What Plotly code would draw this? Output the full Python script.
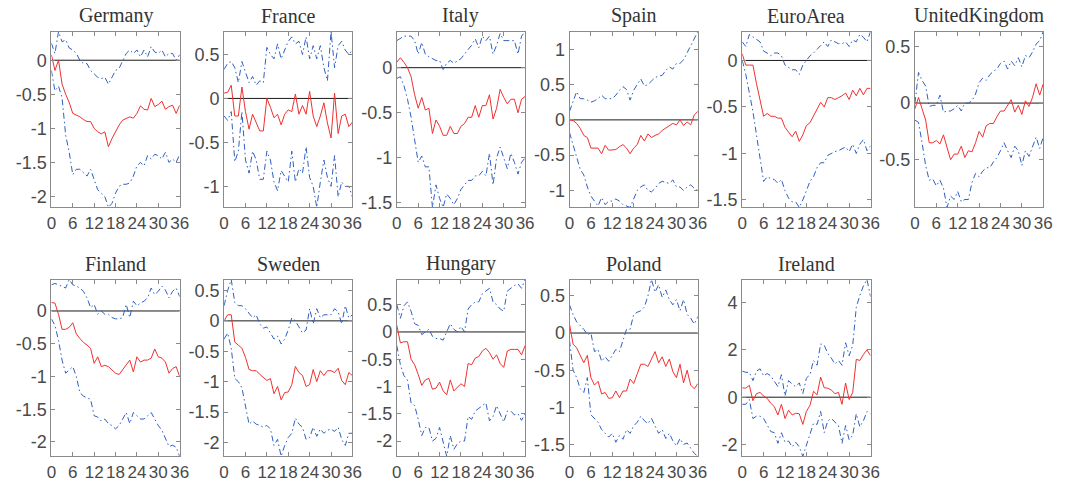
import plotly.graph_objects as go

horizon = list(range(37))
xticks = [0, 6, 12, 18, 24, 30, 36]

countries = ["Germany", "France", "Italy", "Spain", "EuroArea", "UnitedKingdom",
             "Finland", "Sweden", "Hungary", "Poland", "Ireland"]

germany_irf = [0.08, -0.15, 0.0, -0.35, -0.5, -0.62, -0.78, -0.8, -0.83, -0.87, -0.9, -0.9, -1.0, -1.05, -1.08, -1.05, -1.27, -1.15, -1.05, -0.95, -0.88, -0.85, -0.83, -0.85, -0.78, -0.67, -0.72, -0.73, -0.56, -0.68, -0.65, -0.6, -0.72, -0.68, -0.66, -0.78, -0.66]
germany_up = [0.25, 0.1, 0.42, 0.27, 0.3, 0.18, 0.15, 0.1, 0.0, -0.05, -0.05, -0.15, -0.2, -0.25, -0.27, -0.25, -0.35, -0.25, -0.15, -0.12, 0.0, 0.1, 0.15, 0.1, 0.15, 0.05, 0.15, 0.05, 0.2, 0.12, 0.1, 0.15, 0.05, 0.1, 0.1, 0.0, 0.08]
germany_lo = [-0.15, -0.45, -0.38, -0.55, -1.1, -1.35, -1.68, -1.6, -1.6, -1.65, -1.7, -1.6, -1.75, -1.9, -1.95, -2.0, -2.16, -2.1, -1.95, -1.85, -1.82, -1.82, -1.8, -1.7, -1.55, -1.5, -1.55, -1.4, -1.45, -1.38, -1.4, -1.45, -1.35, -1.5, -1.45, -1.5, -1.38]

france_irf = [0.06, 0.07, 0.15, -0.2, -0.2, 0.13, -0.15, -0.35, -0.18, -0.28, -0.37, -0.37, 0.0, -0.1, -0.22, -0.18, -0.3, -0.18, -0.13, -0.15, 0.05, -0.18, -0.08, -0.18, 0.08, -0.2, -0.32, -0.2, -0.05, -0.28, -0.45, 0.06, -0.4, -0.2, -0.18, -0.32, -0.27]
france_up = [0.33, 0.4, 0.42, 0.35, 0.18, 0.42, 0.3, 0.18, 0.25, 0.15, 0.2, 0.18, 0.58, 0.5, 0.45, 0.62, 0.45, 0.55, 0.65, 0.7, 0.62, 0.65, 0.5, 0.7, 0.45, 0.6, 0.45, 0.6, 0.35, 0.2, 0.76, 0.35, 0.6, 0.65, 0.55, 0.5, 0.55]
france_lo = [-0.2, -0.25, -0.15, -0.72, -0.6, -0.15, -0.7, -0.85, -0.6, -0.7, -0.92, -0.92, -0.6, -0.7, -0.95, -1.05, -0.82, -0.88, -0.95, -0.6, -0.95, -0.8, -0.85, -0.55, -0.9, -1.0, -1.24, -0.95, -0.7, -0.9, -1.0, -0.65, -1.12, -0.95, -1.0, -1.0, -1.12]

italy_irf = [0.06, 0.11, 0.06, 0.0, -0.1, -0.3, -0.45, -0.33, -0.47, -0.45, -0.73, -0.58, -0.65, -0.75, -0.75, -0.65, -0.73, -0.73, -0.65, -0.62, -0.55, -0.55, -0.42, -0.55, -0.42, -0.42, -0.3, -0.57, -0.45, -0.24, -0.33, -0.4, -0.35, -0.35, -0.5, -0.35, -0.32]
italy_up = [0.3, 0.33, 0.35, 0.35, 0.35, 0.3, 0.15, 0.28, 0.15, 0.12, 0.1, 0.08, 0.08, -0.02, 0.05, 0.08, 0.05, 0.08, 0.1, 0.15, 0.2, 0.25, 0.32, 0.22, 0.35, 0.3, 0.35, 0.15, 0.25, 0.38, 0.3, 0.3, 0.3, 0.3, 0.15, 0.35, 0.4]
italy_lo = [-0.12, -0.1, -0.2, -0.35, -0.55, -0.8, -1.05, -0.98, -1.1, -1.1, -1.55, -1.3, -1.45, -1.55, -1.4, -1.45, -1.52, -1.45, -1.35, -1.3, -1.25, -1.25, -1.2, -1.2, -1.15, -1.2, -0.95, -1.3, -1.0, -0.88, -1.0, -1.12, -0.95, -1.05, -1.18, -1.05, -1.0]

spain_irf = [0.0, -0.01, -0.05, -0.12, -0.22, -0.25, -0.4, -0.4, -0.4, -0.48, -0.36, -0.43, -0.43, -0.42, -0.38, -0.35, -0.4, -0.48, -0.4, -0.35, -0.22, -0.3, -0.2, -0.25, -0.22, -0.2, -0.15, -0.12, -0.08, -0.05, -0.07, 0.0, -0.08, -0.03, -0.07, 0.07, 0.12]
spain_up = [0.12, 0.25, 0.4, 0.3, 0.3, 0.28, 0.25, 0.27, 0.3, 0.35, 0.3, 0.3, 0.3, 0.35, 0.42, 0.47, 0.43, 0.28, 0.42, 0.5, 0.58, 0.48, 0.5, 0.55, 0.6, 0.62, 0.63, 0.7, 0.75, 0.72, 0.8, 0.8, 0.85, 0.95, 1.05, 1.15, 1.25]
spain_lo = [-0.18, -0.35, -0.55, -0.7, -0.78, -0.95, -1.08, -1.15, -1.22, -1.1, -1.2, -1.15, -1.15, -1.12, -1.15, -1.2, -1.22, -1.24, -1.12, -1.0, -0.95, -0.92, -1.0, -1.02, -0.97, -0.9, -0.87, -0.88, -0.9, -0.85, -0.95, -0.95, -1.0, -0.95, -0.92, -0.97, -1.0]

euro_irf = [0.07, -0.05, -0.05, -0.05, -0.25, -0.42, -0.6, -0.57, -0.6, -0.6, -0.62, -0.62, -0.72, -0.77, -0.82, -0.76, -0.87, -0.8, -0.7, -0.67, -0.6, -0.52, -0.45, -0.5, -0.4, -0.4, -0.42, -0.4, -0.38, -0.35, -0.42, -0.32, -0.38, -0.3, -0.37, -0.3, -0.3]
euro_up = [0.2, 0.15, 0.28, 0.25, 0.22, 0.2, 0.1, 0.08, 0.05, 0.08, 0.08, 0.05, -0.05, -0.08, -0.1, -0.1, -0.15, -0.05, 0.0, 0.05, 0.08, 0.12, 0.15, 0.2, 0.15, 0.22, 0.2, 0.18, 0.18, 0.2, 0.15, 0.22, 0.2, 0.28, 0.25, 0.2, 0.31]
euro_lo = [0.0, -0.15, -0.35, -0.55, -0.8, -1.05, -1.3, -1.25, -1.27, -1.28, -1.32, -1.28, -1.4, -1.48, -1.52, -1.52, -1.58, -1.5, -1.4, -1.3, -1.25, -1.15, -1.1, -1.1, -1.02, -1.0, -0.98, -0.97, -0.95, -0.93, -0.98, -0.9, -1.0, -0.9, -0.85, -0.97, -0.92]

uk_irf = [-0.05, 0.05, -0.05, -0.15, -0.35, -0.35, -0.33, -0.36, -0.28, -0.4, -0.5, -0.45, -0.45, -0.38, -0.48, -0.42, -0.43, -0.35, -0.25, -0.3, -0.2, -0.18, -0.18, -0.12, -0.07, -0.07, -0.02, 0.03, -0.08, -0.02, -0.1, 0.02, -0.03, 0.05, 0.17, 0.07, 0.17]
uk_up = [0.0, 0.27, 0.2, 0.15, -0.03, -0.02, -0.02, 0.07, -0.08, -0.07, -0.07, -0.05, -0.02, -0.07, 0.0, 0.0, 0.02, 0.08, 0.18, 0.22, 0.2, 0.25, 0.28, 0.3, 0.35, 0.37, 0.3, 0.37, 0.33, 0.4, 0.32, 0.42, 0.4, 0.45, 0.52, 0.55, 0.63]
uk_lo = [-0.15, -0.17, -0.35, -0.55, -0.68, -0.67, -0.73, -0.68, -0.75, -0.92, -0.82, -0.85, -0.78, -0.87, -0.85, -0.85, -0.7, -0.62, -0.65, -0.6, -0.57, -0.57, -0.52, -0.48, -0.42, -0.35, -0.42, -0.48, -0.38, -0.42, -0.55, -0.42, -0.47, -0.38, -0.3, -0.4, -0.3]

finland_irf = [0.13, 0.12, -0.05, -0.28, -0.28, -0.25, -0.18, -0.35, -0.42, -0.48, -0.52, -0.57, -0.8, -0.7, -0.85, -0.83, -0.85, -0.9, -0.95, -0.97, -0.9, -0.82, -0.75, -0.93, -0.7, -0.78, -0.75, -0.75, -0.72, -0.58, -0.7, -0.72, -0.78, -0.95, -0.88, -0.85, -1.0]
finland_up = [0.4, 0.42, 0.4, 0.38, 0.35, 0.48, 0.4, 0.38, 0.35, 0.3, 0.2, 0.05, 0.1, -0.05, 0.0, -0.05, -0.05, -0.1, -0.12, -0.12, -0.1, 0.1, -0.1, 0.15, 0.08, 0.12, 0.15, 0.2, 0.35, 0.25, 0.3, 0.38, 0.32, 0.2, 0.3, 0.35, 0.22]
finland_lo = [-0.12, -0.22, -0.45, -0.75, -0.95, -0.9, -0.85, -1.0, -1.25, -1.3, -1.32, -1.35, -1.6, -1.62, -1.68, -1.65, -1.72, -1.75, -1.8, -1.75, -1.65, -1.55, -1.72, -1.55, -1.6, -1.65, -1.65, -1.6, -1.55, -1.65, -1.75, -1.82, -1.95, -2.07, -2.05, -2.08, -2.22]

sweden_irf = [0.0, 0.1, 0.1, -0.35, -0.4, -0.45, -0.6, -0.8, -0.82, -0.82, -0.88, -0.93, -0.98, -0.95, -1.2, -1.08, -1.3, -1.18, -1.17, -1.05, -0.75, -0.85, -0.9, -1.08, -1.05, -0.8, -1.0, -0.82, -0.9, -0.82, -0.82, -0.85, -0.78, -0.98, -1.05, -0.85, -0.9]
sweden_up = [0.25, 0.5, 0.68, 0.3, 0.25, 0.25, 0.2, 0.12, 0.05, 0.1, -0.05, -0.12, -0.1, -0.2, -0.3, -0.25, -0.38, -0.3, -0.15, 0.05, 0.0, -0.1, -0.2, -0.15, 0.2, -0.05, 0.2, 0.05, 0.1, 0.1, 0.1, 0.2, 0.15, -0.05, 0.25, 0.05, 0.1]
sweden_lo = [-0.3, -0.2, -0.45, -0.95, -1.0, -1.1, -1.4, -1.7, -1.65, -1.7, -1.72, -1.75, -1.72, -1.78, -2.05, -1.95, -2.23, -2.05, -1.92, -1.85, -1.6, -1.7, -1.75, -1.95, -1.92, -1.75, -1.9, -1.78, -1.85, -1.8, -1.78, -1.82, -1.75, -1.95, -2.05, -1.85, -1.85]

hungary_irf = [0.12, -0.2, -0.18, -0.18, -0.5, -0.6, -0.78, -0.98, -0.88, -0.85, -1.05, -1.03, -0.92, -1.08, -1.15, -0.88, -1.08, -1.02, -0.95, -1.0, -0.58, -0.6, -0.48, -0.45, -0.35, -0.3, -0.38, -0.5, -0.42, -0.58, -0.65, -0.35, -0.32, -0.32, -0.32, -0.42, -0.25]
hungary_up = [0.5, 0.25, 0.48, 0.55, 0.38, 0.15, 0.12, -0.05, 0.0, 0.05, -0.08, -0.12, -0.12, -0.15, 0.0, 0.15, 0.05, 0.0, 0.1, 0.0, 0.42, 0.5, 0.55, 0.55, 0.7, 0.75, 0.8, 0.55, 0.5, 0.42, 0.38, 0.75, 0.8, 0.85, 0.88, 0.8, 0.96]
hungary_lo = [-0.25, -0.6, -0.8, -0.88, -1.3, -1.35, -1.6, -1.9, -1.75, -1.75, -2.0, -1.95, -1.75, -2.0, -2.28, -1.9, -2.15, -2.05, -2.0, -2.0, -1.55, -1.6, -1.45, -1.4, -1.35, -1.3, -1.63, -1.55, -1.35, -1.5, -1.65, -1.45, -1.45, -1.52, -1.5, -1.62, -1.5]

poland_irf = [0.12, -0.15, -0.2, -0.3, -0.4, -0.3, -0.6, -0.7, -0.65, -0.82, -0.8, -0.88, -0.87, -0.78, -0.87, -0.78, -0.78, -0.62, -0.68, -0.55, -0.42, -0.42, -0.45, -0.35, -0.25, -0.4, -0.32, -0.45, -0.35, -0.52, -0.6, -0.42, -0.67, -0.5, -0.7, -0.75, -0.68]
poland_up = [0.38, 0.25, 0.15, 0.1, 0.05, -0.02, 0.0, -0.25, -0.22, -0.38, -0.32, -0.38, -0.3, -0.22, -0.25, -0.1, 0.05, 0.05, 0.25, 0.28, 0.3, 0.35, 0.5, 0.72, 0.55, 0.65, 0.48, 0.58, 0.45, 0.38, 0.45, 0.3, 0.45, 0.25, 0.2, 0.12, 0.22]
poland_lo = [-0.1, -0.5, -0.6, -0.75, -0.8, -0.6, -1.1, -1.15, -1.2, -1.3, -1.35, -1.4, -1.35, -1.47, -1.38, -1.43, -1.3, -1.35, -1.25, -1.2, -1.12, -1.18, -1.22, -1.15, -1.25, -1.35, -1.3, -1.42, -1.35, -1.45, -1.52, -1.42, -1.5, -1.48, -1.55, -1.62, -1.66]

ireland_irf = [0.4, 0.38, 0.5, -0.15, 0.15, 0.2, 0.05, -0.05, -0.25, -0.4, -0.75, -0.3, -0.9, -0.55, -0.75, -0.68, -0.7, -1.15, -0.6, -0.35, 0.25, 0.1, 0.85, 0.4, 0.38, 0.3, 0.15, 0.2, -0.3, 0.6, -0.1, 0.2, 1.6, 1.55, 1.8, 2.0, 1.75]
ireland_up = [1.1, 1.05, 1.05, 0.7, 1.1, 1.2, 0.9, 1.0, 0.9, 0.7, 0.45, 0.95, 0.05, 0.7, 0.55, 0.45, 0.6, 0.15, 0.8, 0.95, 1.55, 1.35, 2.25, 2.2, 1.85, 1.65, 1.4, 1.55, 1.35, 2.3, 1.75, 2.2, 3.8, 4.3, 4.7, 4.97, 4.25]
ireland_lo = [-0.3, -0.3, -0.1, -0.9, -0.8, -0.8, -0.9, -1.15, -1.45, -1.5, -1.95, -1.5, -1.9, -1.85, -2.1, -1.9, -2.1, -2.5, -2.0, -1.5, -1.1, -1.15, -0.6, -1.5, -1.0, -0.9, -1.05, -1.2, -1.95, -1.2, -1.8, -1.6, -0.7, -1.25, -1.0, -0.6, -0.7]

ytick_sets = [
    [0, -0.5, -1, -1.5, -2],
    [0.5, 0, -0.5, -1],
    [0, -0.5, -1, -1.5],
    [1, 0.5, 0, -0.5, -1],
    [0, -0.5, -1, -1.5],
    [0.5, 0, -0.5],
    [0, -0.5, -1, -1.5, -2],
    [0.5, 0, -0.5, -1, -1.5, -2],
    [0.5, 0, -0.5, -1, -1.5, -2],
    [0.5, 0, -0.5, -1, -1.5],
    [4, 2, 0, -2],
]

series = [
    (germany_irf, germany_up, germany_lo),
    (france_irf, france_up, france_lo),
    (italy_irf, italy_up, italy_lo),
    (spain_irf, spain_up, spain_lo),
    (euro_irf, euro_up, euro_lo),
    (uk_irf, uk_up, uk_lo),
    (finland_irf, finland_up, finland_lo),
    (sweden_irf, sweden_up, sweden_lo),
    (hungary_irf, hungary_up, hungary_lo),
    (poland_irf, poland_up, poland_lo),
    (ireland_irf, ireland_up, ireland_lo),
]

W, H = 1071, 492
lefts = [47, 222, 397, 572, 747, 922]
pw = 130
rows = [(32, 210), (283, 462)]

fig = go.Figure()
annotations = []
RED = "#f03030"
BLUE = "#2f5fbf"
FRAME = "#8a8a8a"
TXT = "#4a4a4a"

for i, name in enumerate(countries):
    r, c = divmod(i, 6)
    top, bot = rows[r]
    l = lefts[c]
    xa = "x" if i == 0 else "x%d" % (i + 1)
    ya = "y" if i == 0 else "y%d" % (i + 1)
    irf, up, lo = series[i]
    ymin = min(lo + irf + up)
    ymax = max(lo + irf + up)
    fig.add_trace(go.Scatter(x=[0, 36], y=[0, 0], mode="lines",
                             line=dict(color="#1a1a1a", width=1), xaxis=xa, yaxis=ya, showlegend=False, hoverinfo="skip"))
    fig.add_trace(go.Scatter(x=horizon, y=up, mode="lines",
                             line=dict(color=BLUE, width=1, dash="6px,3px,1.5px,3px"), xaxis=xa, yaxis=ya, showlegend=False))
    fig.add_trace(go.Scatter(x=horizon, y=lo, mode="lines",
                             line=dict(color=BLUE, width=1, dash="6px,3px,1.5px,3px"), xaxis=xa, yaxis=ya, showlegend=False))
    fig.add_trace(go.Scatter(x=horizon, y=irf, mode="lines",
                             line=dict(color=RED, width=1), xaxis=xa, yaxis=ya, showlegend=False))
    axkey_x = "xaxis" if i == 0 else "xaxis%d" % (i + 1)
    axkey_y = "yaxis" if i == 0 else "yaxis%d" % (i + 1)
    common = dict(showline=True, mirror="ticks", linecolor=FRAME, linewidth=1,
                  ticks="inside", ticklen=4, tickcolor=FRAME, showgrid=False, zeroline=False)
    fig.layout[axkey_x] = dict(domain=[l / W, (l + pw) / W], range=[0, 36],
                               tickvals=xticks, ticktext=[str(t) for t in xticks],
                               tickangle=0, anchor=ya,
                               tickfont=dict(family="Liberation Sans, Arial", size=17, color=TXT), **common)
    fig.layout[axkey_y] = dict(domain=[1 - bot / H, 1 - top / H], range=[ymin, ymax],
                               tickvals=ytick_sets[i], ticktext=["%g" % t for t in ytick_sets[i]],
                               anchor=xa,
                               tickfont=dict(family="Liberation Sans, Arial", size=18, color=TXT), **common)
    annotations.append(dict(text=name, x=(l + pw / 2) / W, y=1 - (top - 16) / H,
                            xref="paper", yref="paper", showarrow=False,
                            font=dict(family="Liberation Serif, Times New Roman", size=20, color="#333333"),
                            xanchor="center", yanchor="middle"))

fig.update_layout(width=W, height=H, margin=dict(l=0, r=0, t=0, b=0),
                  paper_bgcolor="white", plot_bgcolor="white", annotations=annotations)
fig.write_html("out.html")
